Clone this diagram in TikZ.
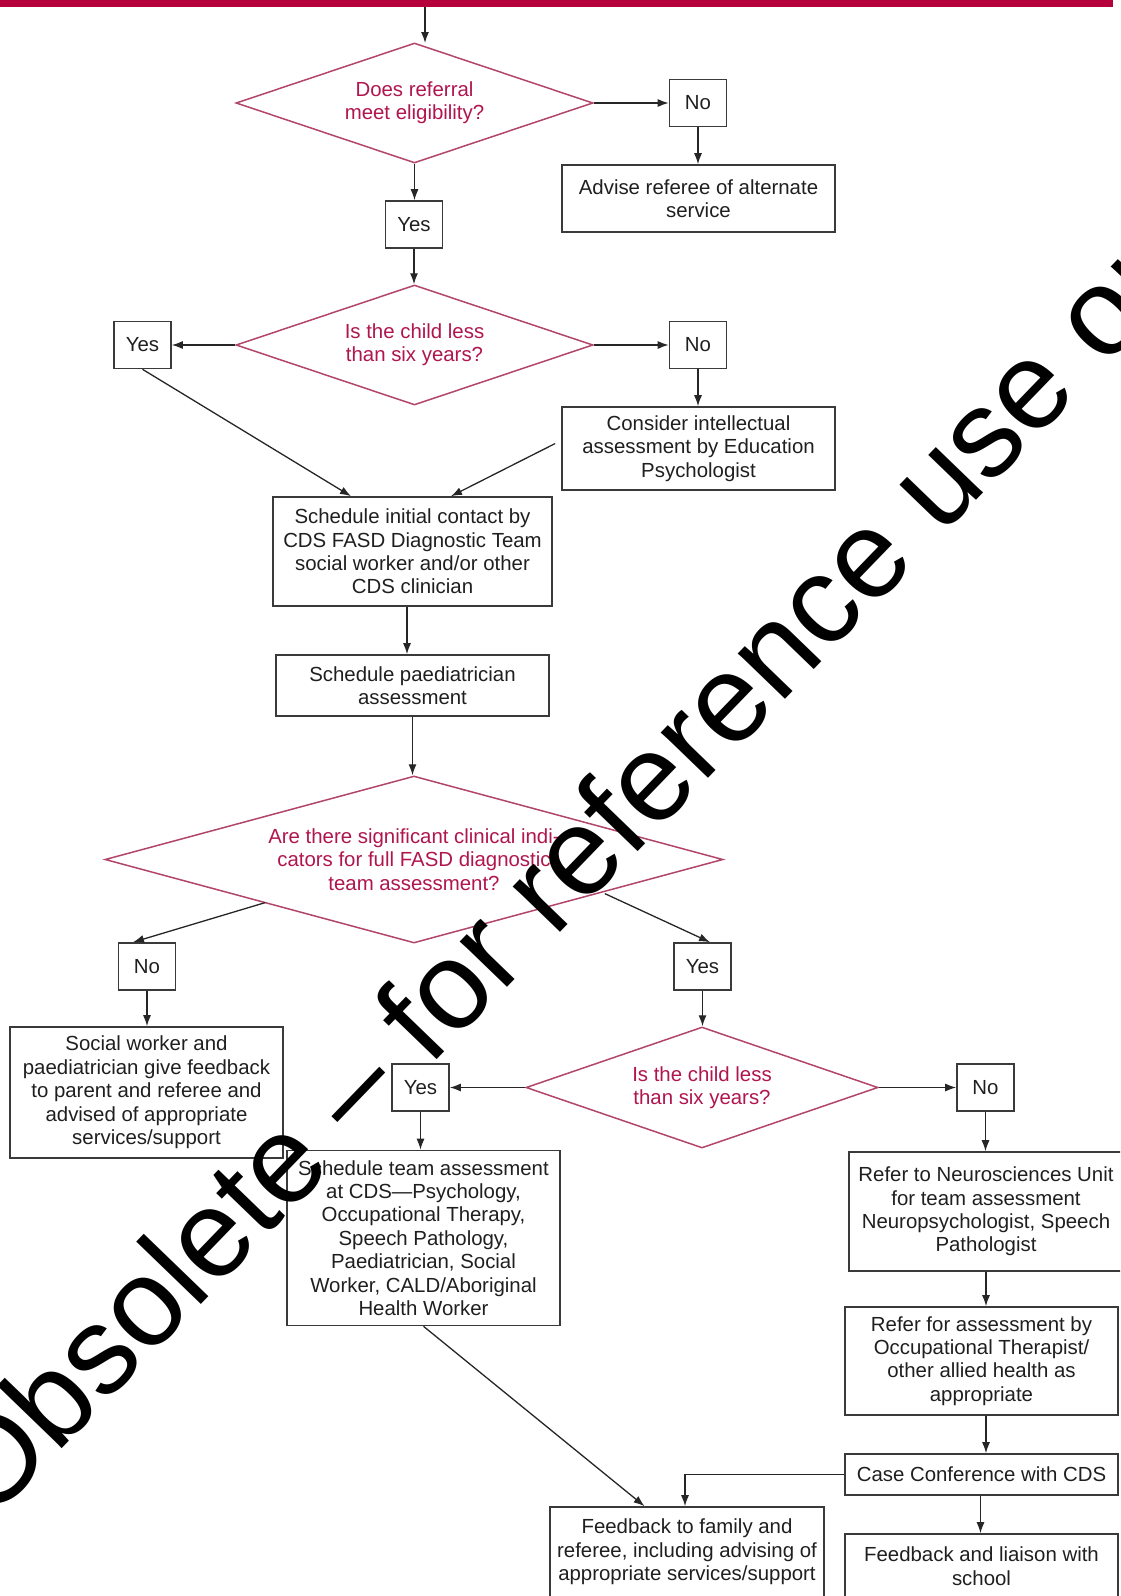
\documentclass[tikz,border=0pt]{standalone}
\usepackage{fontspec}
\setmainfont{Liberation Sans}
\usetikzlibrary{shapes.geometric,arrows.meta}
\definecolor{barred}{HTML}{B5003C}
\definecolor{askline}{HTML}{B2456A}
\definecolor{asktext}{HTML}{B0154E}
\definecolor{boxline}{HTML}{3A3A3A}
\begin{document}
\begin{tikzpicture}[x=1pt,y=-1pt,
                        box/.style={draw=boxline,line width=1.6pt,rectangle,inner sep=0pt,align=center,
                          font=\fontsize{20.4}{23.4}\selectfont,text=black!88},
                        answer/.style={box,minimum width=57pt,minimum height=47pt},
                        ask/.style={draw=askline,line width=1.5pt,diamond,aspect=3,inner sep=0pt,align=center,
                          font=\fontsize{20.4}{23.4}\selectfont,text=asktext},
                        arr/.style={draw=black!85,line width=1.3pt,-{Latex[length=11pt,width=8pt]}}]
                        \useasboundingbox (0,0) rectangle (1120,1596);
                        \clip (0,0) rectangle (1120,1596);
                        
                        % Marking top bar
                        \node [fill=barred,inner sep=0pt,minimum width=1113pt,minimum height=7pt,anchor=north west] (topbar) at (0,0) {};%
                        \coordinate (entry) at (425,43);%
                        
                        % Marking question: eligibility
                        \node [ask,minimum width=357pt,minimum height=120pt] (elig) at (414.5,103) {Does referral\\meet eligibility?};%
                        \node [answer] (eligno) at (698,103) {No};%
                        \node [box,minimum width=273pt,minimum height=67pt] (advise) at (698.5,198.5) {Advise referee of alternate\\service};%
                        \node [answer] (eligyes) at (414,224.5) {Yes};%
                        
                        % Marking question: age, first
                        \node [ask,minimum width=357pt,minimum height=120pt] (agea) at (414.5,345) {Is the child less\\than six years?};%
                        \node [answer] (ageayes) at (142.5,345) {Yes};%
                        \node [answer] (ageano) at (698,345) {No};%
                        \node [box,minimum width=273pt,minimum height=83pt] (consider) at (698.5,448.5) {Consider intellectual\\assessment by Education\\Psychologist};%
                        
                        % Marking initial contact and paediatrician
                        \node [box,minimum width=279pt,minimum height=109pt] (contact) at (412.5,551.5) {Schedule initial contact by\\CDS FASD Diagnostic Team\\social worker and/or other\\CDS clinician};%
                        \node [box,minimum width=273pt,minimum height=61pt] (paed) at (412.5,685.5) {Schedule paediatrician\\assessment};%
                        
                        % Marking question: clinical indicators
                        \node [ask,aspect=3.7,minimum width=618pt,minimum height=167pt] (clinic) at (414,859.5) {Are there significant clinical indi-\\cators for full FASD diagnostic\\team assessment?};%
                        \node [answer] (clinicno) at (147,966.5) {No};%
                        \node [answer] (clinicyes) at (702.5,966.5) {Yes};%
                        \node [box,minimum width=273pt,minimum height=131pt] (social) at (146.5,1092.5) {Social worker and\\paediatrician give feedback\\to parent and referee and\\advised of appropriate\\services/support};%
                        
                        % Marking question: age, second
                        \node [ask,minimum width=352pt,minimum height=121pt] (ageb) at (702,1087.5) {Is the child less\\than six years?};%
                        \node [answer] (agebyes) at (420.5,1087.5) {Yes};%
                        \node [answer] (agebno) at (985.5,1087.5) {No};%
                        \node [box,minimum width=273pt,minimum height=175pt] (team) at (423.5,1238) {Schedule team assessment\\at CDS---Psychology,\\Occupational Therapy,\\Speech Pathology,\\Paediatrician, Social\\Worker, CALD/Aboriginal\\Health Worker};%
                        \node [box,minimum width=274pt,minimum height=119pt] (neuro) at (986,1211.5) {Refer to Neurosciences Unit\\for team assessment\\Neuropsychologist, Speech\\Pathologist};%
                        \node [box,minimum width=273pt,minimum height=108pt] (allied) at (981.5,1361) {Refer for assessment by\\Occupational Therapist/\\other allied health as\\appropriate};%
                        \node [box,minimum width=273pt,minimum height=41pt] (conf) at (981.5,1474.5) {Case Conference with CDS};%
                        \node [box,minimum width=274pt,minimum height=98pt] (family) at (687,1556) {Feedback to family and\\referee, including advising of\\appropriate services/support\\[-11pt]\mbox{}};%
                        \node [box,minimum width=273pt,minimum height=64pt] (school) at (981.5,1566) {Feedback and liaison with\\school};%
                        
                        % Drawing arrows
                        \draw [arr] (topbar.south -| entry) -- (entry);%
                        \draw [arr] (elig.east) -- (eligno.west);%
                        \draw [arr] (eligno.south) -- (eligno.south |- advise.north);%
                        \draw [arr] (elig.south) -- (elig.south |- eligyes.north);%
                        \draw [arr] (eligyes.south) -- (eligyes.south |- agea.north);%
                        \draw [arr] (agea.west) -- (ageayes.east);%
                        \draw [arr] (agea.east) -- (ageano.west);%
                        \draw [arr] (ageano.south) -- (ageano.south |- consider.north);%
                        \draw [arr] (ageayes.south) -- ([xshift=-61.5pt]contact.north);%
                        \draw [arr] ([xshift=-6pt,yshift=5pt]consider.west) -- ([xshift=38.5pt]contact.north);%
                        \draw [arr] ([xshift=-5.5pt]contact.south) -- ([xshift=-5.5pt]paed.north);%
                        \draw [arr] (paed.south) -- (paed.south |- clinic.north);%
                        \draw [arr] ([xshift=6pt,yshift=-1pt]clinic.south west) -- ([xshift=-14pt]clinicno.north);%
                        \draw [arr] ([xshift=36pt,yshift=8pt]clinic.south east) -- ([xshift=7.5pt]clinicyes.north);%
                        \draw [arr] (clinicno.south) -- (clinicno.south |- social.north);%
                        \draw [arr] (clinicyes.south) -- (clinicyes.south |- ageb.north);%
                        \draw [arr] (ageb.west) -- (agebyes.east);%
                        \draw [arr] (ageb.east) -- (agebno.west);%
                        \draw [arr] (agebyes.south) -- (agebyes.south |- team.north);%
                        \draw [arr] (agebno.south) -- (agebno.south |- neuro.north);%
                        \draw [arr] (neuro.south) -- (neuro.south |- allied.north);%
                        \draw [arr] (allied.south -| neuro.south) -- (neuro.south |- conf.north);%
                        \draw [arr] ([xshift=-1pt]conf.south) -- ([xshift=-1pt]conf.south |- school.north);%
                        \draw [arr] (conf.west) -| ([xshift=-2pt]family.north);%
                        \draw [arr] (team.south) -- ([xshift=-42.5pt]family.north);%
                        
                        % Marking stamp
                        \node [rotate=46,inner sep=0pt,anchor=base,font=\fontsize{124}{124}\selectfont] (stamp) at (626,864) {Obsolete – for reference use only};%
                        \end{tikzpicture}
\end{document}
